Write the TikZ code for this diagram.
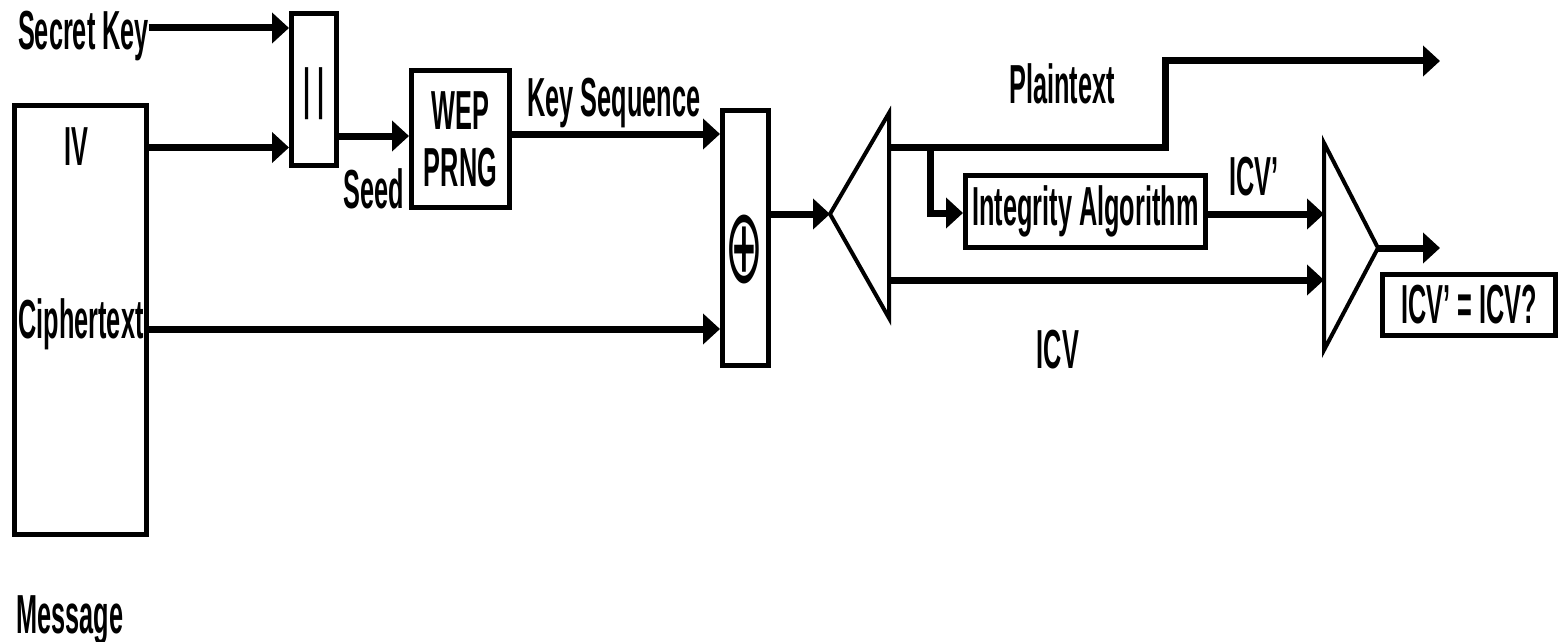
\documentclass[tikz,border=0pt]{standalone}
\usepackage{fontspec}
\setmainfont{Liberation Sans}[FakeStretch=0.46]
\newfontfamily\symfont{DejaVu Sans}[FakeStretch=0.43]
\usetikzlibrary{arrows.meta}
\begin{document}
\begin{tikzpicture}[x=1pt,y=-1pt,
  lab/.style={font=\fontsize{55}{57}\selectfont\bfseries, inner sep=0pt},
  box/.style={draw, line width=5pt, inner sep=0pt},
  conn/.style={line width=7pt, line join=miter, -{Triangle[length=17pt,width=30pt]}},
  tri/.style={line width=4pt, line join=miter}]
\useasboundingbox (0,0) rectangle (1564,642);

% boxes
\node[box, minimum width=132pt, minimum height=429pt] (msgbox) at (80.5,320) {};
\node[box, minimum width=45pt, minimum height=152pt] (cat) at (314,89.5) {};
\node[lab] (catsym) at (314,94) {|\kern6pt|};
\node[box, lab, minimum width=98pt, minimum height=137pt, align=center] (wep) at (460.5,139) {WEP\\PRNG};
\node[box, minimum width=46pt, minimum height=255pt] (xor) at (745.5,238) {};
\node[inner sep=0pt, font=\symfont\fontsize{105}{105}\selectfont] (xsym) at (744,250) {⊕};
\node[box, lab, minimum width=240pt, minimum height=72pt] (integ) at (1085.5,211.5) {Integrity Algorithm};
\node[box, lab, minimum width=173pt, minimum height=61pt] (cmp) at (1469,305) {ICV' = ICV?};

% labels
\node[lab, anchor=base] (sk) at (83.5,50) {Secret Key};
\node[lab, anchor=base] (iv) at (76,165) {IV};
\node[lab, anchor=base] (ct) at (81,338) {Ciphertext};
\node[lab, anchor=base] (mg) at (70,633) {Message};
\node[lab, anchor=base] (seed) at (374,208) {Seed};
\node[lab, anchor=base] (ks) at (614,117) {Key Sequence};
\node[lab, anchor=base] (pt) at (1062,103) {Plaintext};
\node[lab, anchor=base] (icvp) at (1254,195) {ICV'};
\node[lab, anchor=base] (icv) at (1058,368) {ICV};

% splitter and combiner triangles
\coordinate (sa) at (830,214);
\coordinate (st) at (889,113);
\coordinate (sb) at (889,318);
\draw[tri] (sa) -- (st) -- (sb) -- cycle;
\coordinate (ca) at (1378,248);
\coordinate (ct1) at (1324,143);
\coordinate (cb) at (1324,350);
\draw[tri] (ct1) -- (ca) -- (cb) -- cycle;

% connectors
\draw[conn] (sk.east |- 0,28) -- (cat.west |- 0,28);
\draw[conn] (msgbox.east |- 0,147.5) -- (cat.west |- 0,147.5);
\draw[conn] (cat.east |- 0,136) -- (wep.west |- 0,136);
\draw[conn] (wep.east |- 0,134) -- (xor.west |- 0,134);
\draw[conn] (msgbox.east |- 0,329) -- (xor.west |- 0,329);
\draw[conn] (xor.east |- sa) -- (sa);
\coordinate (ptout) at (1440,61);
\draw[conn] (st |- 0,147) -- (1165,147) -- (1165,61) -- (ptout);
\draw[conn] (930,147) -- (930,213) -- (integ.west |- 0,213);
\draw[conn] (integ.east |- 0,214) -- (ct1 |- 0,214);
\draw[conn] (st |- 0,280) -- (ct1 |- 0,280);
\coordinate (cout) at (1440,248);
\draw[conn] (ca) -- (cout);
\end{tikzpicture}
\end{document}
